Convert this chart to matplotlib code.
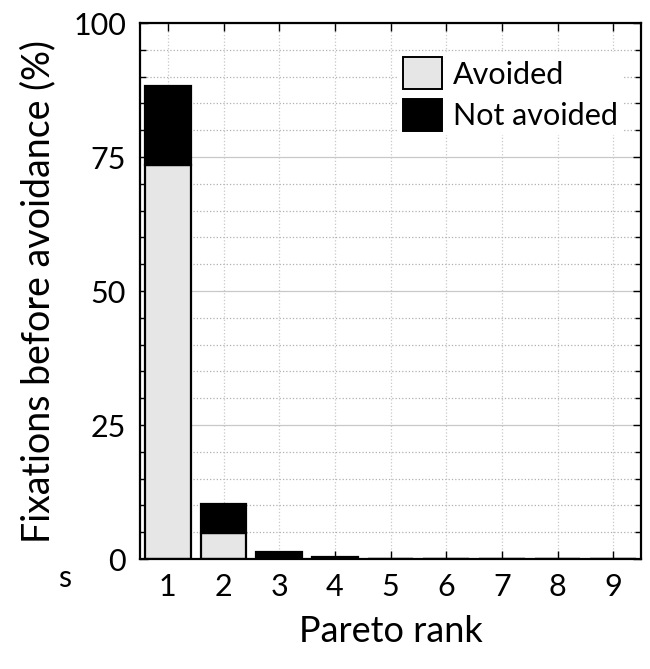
import matplotlib
matplotlib.use('Agg')
import matplotlib.pyplot as plt
from matplotlib.ticker import MultipleLocator
from matplotlib.patches import Patch

plt.rcParams['font.family'] = ['Lato', 'DejaVu Sans']

# data
ranks = [1, 2, 3, 4, 5, 6, 7, 8, 9]
avoided = [73.6, 4.9, 0.0, 0.0, 0, 0, 0, 0, 0]
not_avoided = [14.6, 5.4, 1.4, 0.45, 0, 0, 0, 0, 0]
series_labels = ['Avoided', 'Not avoided']
y_ticks = [0, 25, 50, 75, 100]

fig = plt.figure(figsize=(6.5, 6.69), dpi=100)
ax = fig.add_axes([0.2154, 0.1644, 0.7708, 0.8012])

ax.set_axisbelow(True)
ax.grid(True, which='major', axis='x', color='#c8c8c8', linestyle=':', linewidth=0.9)
ax.grid(True, which='major', axis='y', color='#c8c8c8', linestyle='-', linewidth=0.9)
ax.grid(True, which='minor', axis='y', color='#b0b0b0', linestyle=':', linewidth=0.9)

w = 0.82
ax.bar(ranks, avoided, width=w, color='#e6e6e6', edgecolor='black', linewidth=1.6)
ax.bar(ranks, not_avoided, width=w, bottom=avoided, color='black', edgecolor='black', linewidth=1.6)

ax.set_xlim(0.5, 9.5)
ax.set_ylim(0, 100)
ax.set_xticks(ranks)
ax.set_xticklabels([str(r) for r in ranks])
ax.set_yticks(y_ticks)
ax.yaxis.set_minor_locator(MultipleLocator(5))
ax.tick_params(which='both', direction='in', top=True, right=True, labelsize=22, width=1.0)
ax.tick_params(which='major', length=6, pad=10)
ax.tick_params(which='minor', length=4)
for s in ax.spines.values():
    s.set_linewidth(1.6)

ax.set_ylabel('Fixations before avoidance (%)', fontsize=27, labelpad=12)
ax.set_xlabel('Pareto rank', fontsize=26, labelpad=10)

handles = [Patch(facecolor='#e6e6e6', edgecolor='black', linewidth=1.4),
           Patch(facecolor='black', edgecolor='black', linewidth=1.4)]
leg = ax.legend(handles, series_labels, loc='upper left', bbox_to_anchor=(0.515, 0.945),
                fontsize=22, frameon=True, edgecolor='none', framealpha=1.0,
                handlelength=1.3, handleheight=1.25, handletextpad=0.35,
                labelspacing=0.3, borderpad=0.15, borderaxespad=0.0, fancybox=False)

fig.text(0.1, 0.136, 's', fontsize=22, ha='center', va='center')

fig.savefig('out.png', dpi=100)
